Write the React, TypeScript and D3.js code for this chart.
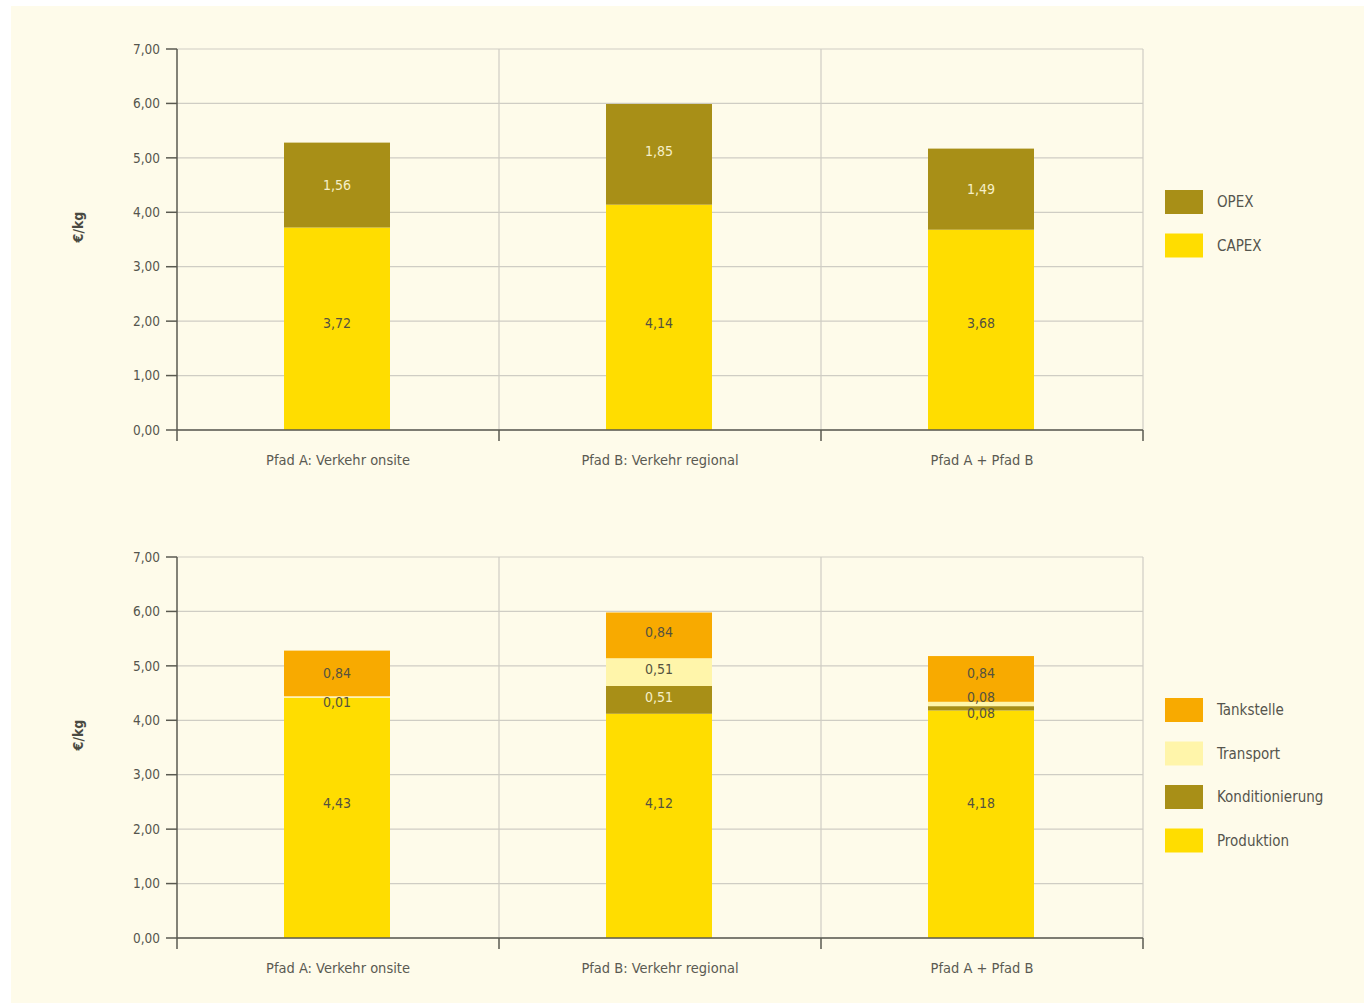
import React from "react";
import * as d3 from "d3";

const categories = ["Pfad A: Verkehr onsite", "Pfad B: Verkehr regional", "Pfad A + Pfad B"];
const yTicks = [0, 1, 2, 3, 4, 5, 6, 7];

// Top chart
const topSeries = ["CAPEX", "OPEX"];
const capex = [3.72, 4.14, 3.68];
const opex = [1.56, 1.85, 1.49];

// Bottom chart
const bottomSeries = ["Produktion", "Konditionierung", "Transport", "Tankstelle"];
const produktion = [4.43, 4.12, 4.18];
const konditionierung = [0, 0.51, 0.08];
const transport = [0.01, 0.51, 0.08];
const tankstelle = [0.84, 0.84, 0.84];

const colors: Record<string, string> = {
  CAPEX: "#FFDD00",
  OPEX: "#A88F17",
  Produktion: "#FFDD00",
  Konditionierung: "#A88F17",
  Transport: "#FFF5AA",
  Tankstelle: "#F8AA00",
};
const labelColors: Record<string, string> = {
  CAPEX: "#55523f",
  OPEX: "#f6efc8",
  Produktion: "#55523f",
  Konditionierung: "#f6efc8",
  Transport: "#55523f",
  Tankstelle: "#55523f",
};

const FONT = "'Liberation Sans Narrow', 'DejaVu Sans Condensed', 'Roboto', sans-serif";
const fmt = (v: number) => v.toFixed(2).replace(".", ",");

type Seg = { key: string; y0: number; y1: number; v: number; i: number };

function Panel({
  top,
  series,
  values,
  legendOrder,
  legendTop,
  smallLabels,
  baseLabelValue,
}: {
  top: number;
  series: string[];
  values: number[][];
  legendOrder: string[];
  legendTop: number;
  smallLabels: boolean;
  baseLabelValue: number;
}) {
  const left = 177;
  const right = 1143;
  const bottom = top + 381;
  const x = d3.scaleBand<string>().domain(categories).range([left, right]).paddingInner(0).paddingOuter(0);
  const y = d3.scaleLinear().domain([0, 7]).range([bottom, top]);
  const barW = 106;

  const table = categories.map((c, i) => {
    const row: any = { cat: c };
    series.forEach((s, k) => (row[s] = values[k][i]));
    return row;
  });
  const stacked = d3.stack().keys(series)(table);
  const segs: Seg[] = [];
  stacked.forEach((layer) => {
    layer.forEach((d, i) => {
      segs.push({ key: layer.key, y0: d[0], y1: d[1], v: d[1] - d[0], i });
    });
  });

  const axisColor = "#5a5a50";
  const gridColor = "#cfcdc4";

  return (
    <g>
      {/* horizontal grid */}
      {yTicks.map((t) => (
        <line key={"g" + t} x1={left} x2={right} y1={y(t)} y2={y(t)} stroke={gridColor} strokeWidth={1.2} />
      ))}
      {/* vertical category separators */}
      {categories.map((c, i) => (
        <line
          key={"v" + i}
          x1={(x(c) as number) + x.bandwidth()}
          x2={(x(c) as number) + x.bandwidth()}
          y1={top}
          y2={bottom}
          stroke={gridColor}
          strokeWidth={1.2}
        />
      ))}
      {/* bars */}
      {segs.map((s, k) =>
        s.v > 0 ? (
          <rect
            key={"r" + k}
            x={(x(categories[s.i]) as number) + x.bandwidth() / 2 - barW / 2 - 1}
            width={barW}
            y={y(s.y1)}
            height={Math.max(y(s.y0) - y(s.y1), 1)}
            fill={colors[s.key]}
            stroke={s.key === "Transport" && s.v < 0.05 ? "#ffffff" : "none"}
            strokeWidth={0.6}
          />
        ) : null
      )}
      {/* labels */}
      {segs.map((s, k) => {
        if (s.v <= 0) return null;
        let cy = s.y0 === 0 ? y(baseLabelValue) : y((s.y0 + s.y1) / 2);
        const small = s.v < 0.2;
        if (smallLabels) {
          if (s.key === "Transport" && s.i === 2) cy -= 7;
          if (s.key === "Konditionierung" && s.i === 2) cy += 5;
          if (s.key === "Transport" && s.i === 0) cy += 5;
          if (s.key === "Tankstelle" && s.i === 2) cy -= 6;
          if (s.i === 1 && s.key !== "Produktion") cy -= 3;
        } else if (s.key === "OPEX" && s.i === 1) {
          cy -= 3;
        }
        const col = small ? "#55523f" : labelColors[s.key];
        return (
          <text
            key={"t" + k}
            x={(x(categories[s.i]) as number) + x.bandwidth() / 2 - 1}
            y={cy}
            dy="0.35em"
            textAnchor="middle"
            fontSize={14}
            fill={col}
            fontFamily={FONT}
          >
            {fmt(s.v)}
          </text>
        );
      })}
      {/* y axis */}
      <line x1={left} x2={left} y1={top} y2={bottom + 11} stroke={axisColor} strokeWidth={1.5} />
      {yTicks.map((t) => (
        <g key={"yt" + t}>
          <line x1={left - 11} x2={left} y1={y(t)} y2={y(t)} stroke={axisColor} strokeWidth={1.5} />
          <text
            x={left - 17}
            y={y(t)}
            dy="0.35em"
            textAnchor="end"
            fontSize={13.5}
            fill="#55554d"
            fontFamily={FONT}
          >
            {fmt(t)}
          </text>
        </g>
      ))}
      {/* x axis */}
      <line x1={left} x2={right} y1={bottom} y2={bottom} stroke={axisColor} strokeWidth={1.5} />
      {categories.map((c, i) => (
        <g key={"xt" + i}>
          <line
            x1={(x(c) as number) + x.bandwidth()}
            x2={(x(c) as number) + x.bandwidth()}
            y1={bottom}
            y2={bottom + 11}
            stroke={axisColor}
            strokeWidth={1.5}
          />
          <text
            x={(x(c) as number) + x.bandwidth() / 2}
            y={bottom + 30}
            dy="0.35em"
            textAnchor="middle"
            fontSize={14.5}
            fill="#5a5a52"
            fontFamily={FONT}
          >
            {c}
          </text>
        </g>
      ))}
      {/* y label */}
      <text
        transform={`translate(78, ${top + 178}) rotate(-90)`}
        textAnchor="middle"
        dy="0.35em"
        fontSize={14}
        fontWeight="bold"
        fill="#4a4a42"
        fontFamily={FONT}
      >
        €/kg
      </text>
      {/* legend */}
      {legendOrder.map((s, i) => (
        <g key={"lg" + s} transform={`translate(1165, ${legendTop + i * 43.5})`}>
          <rect x={0} y={0} width={38} height={24} fill={colors[s]} />
          <text x={52} y={12} dy="0.35em" fontSize={15} fill="#55554d" fontFamily={FONT}>
            {s}
          </text>
        </g>
      ))}
    </g>
  );
}

export default function App() {
  return (
    <div style={{ position: "absolute", left: 0, top: 0 }}>
      <svg width={1364} height={1005} style={{ display: "block" }}>
        <rect x={0} y={0} width={1364} height={1005} fill="#ffffff" />
        <rect x={11} y={6} width={1353} height={997} fill="#FEFBEA" />
        <Panel
          top={49}
          series={topSeries}
          values={[capex, opex]}
          legendOrder={["OPEX", "CAPEX"]}
          legendTop={190}
          smallLabels={false}
          baseLabelValue={1.97}
        />
        <Panel
          top={557}
          series={bottomSeries}
          values={[produktion, konditionierung, transport, tankstelle]}
          legendOrder={["Tankstelle", "Transport", "Konditionierung", "Produktion"]}
          legendTop={698}
          smallLabels={true}
          baseLabelValue={2.48}
        />
      </svg>
    </div>
  );
}
